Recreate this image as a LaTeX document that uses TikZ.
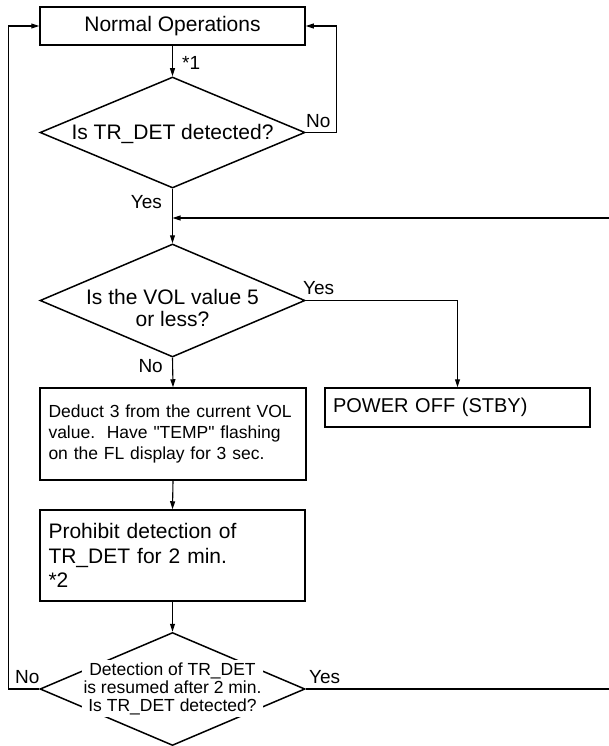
\documentclass[tikz,border=0pt]{standalone}
\usepackage{fontspec}
\setmainfont{Liberation Sans}
\newfontfamily\qfnt{Liberation Sans}
\usetikzlibrary{arrows.meta,shapes.geometric}
\begin{document}
\begin{tikzpicture}[x=1pt,y=-1pt,
  box/.style={draw,line width=1.5pt,rectangle,inner sep=0pt},
  dia/.style={draw,line width=1.5pt,diamond,inner sep=0pt,minimum width=265pt},
  conn/.style={line width=1.1pt},
  arr/.style={conn,-{Triangle[length=8pt,width=5pt]}},
  lbl/.style={font=\fontsize{19}{23}\selectfont,inner sep=0pt},
  big/.style={font=\fontsize{21}{25}\selectfont},
]
\useasboundingbox (0,0) rectangle (608,746);

% boxes
\node[box,big,minimum width=265pt,minimum height=38pt] (no) at (172.5,26) {Normal Operations};
\node[box,minimum width=266pt,minimum height=92pt,text width=249pt,align=left,
      font=\fontsize{17.5}{21}\selectfont] (ded) at (173,434)
      {Deduct 3 from the current VOL\\value.\ \ Have {\qfnt "}TEMP{\qfnt "} flashing\\on the FL display for 3 sec.};
\node[box,minimum width=265pt,minimum height=91pt,text width=248pt,align=left,
      font=\fontsize{21}{24.5}\selectfont] (pro) at (172.5,555.5)
      {Prohibit detection of\\TR\_DET for 2 min.\\{}*2};
\node[box,minimum width=265pt,minimum height=39pt,text width=249pt,align=left,
      font=\fontsize{20}{24}\selectfont] (pow) at (457.5,407.5) {POWER OFF (STBY)};

% diamonds
\node[dia,minimum height=111pt] (d1) at (172.5,132.5) {};
\node[big,inner sep=0pt,anchor=base] (d1t) at (172.5,140) {Is TR\_DET detected?};
\node[dia,minimum height=113pt] (d2) at (172.5,300.5) {};
\node[inner sep=0pt,align=center,font=\fontsize{21}{21.7}\selectfont] (d2t) at (172.5,308)
      {Is the VOL value 5\\or less?};
\node[dia,minimum height=113pt] (d3) at (172.5,689) {};
\node[fill=white,inner sep=2pt,align=center,font=\fontsize{17.5}{18}\selectfont] (d3t) at (172.5,688.5)
      {Detection of TR\_DET\\is resumed after 2 min.\\Is TR\_DET detected?};

% labels
\node[lbl,anchor=base west] (s1) at (182,70) {*1};
\node[lbl,anchor=base west] (n1) at (306,128) {No};
\node[lbl,anchor=base east] (y1) at (162,208) {Yes};
\node[lbl,anchor=base west] (y2) at (303,294) {Yes};
\node[lbl,anchor=base east] (n2) at (163,372) {No};
\node[lbl,anchor=base west] (n3) at (15,683) {No};
\node[lbl,anchor=base west] (y3) at (309,683) {Yes};

% connectors
\coordinate (m) at (172.5,218);
\coordinate (rr) at (610,689);
\draw[arr] (no.south) -- (d1.north);
\draw[arr] (d1.east) -- ++(31,0) |- (no.east);
\draw[arr] (d1.south) -- (d2.north);
\draw[arr] (d2.east) -| (pow.north);
\draw[arr] (d2.south) -- (ded.north);
\draw[arr] (ded.south) -- (pro.north);
\draw[arr] (pro.south) -- (d3.north);
\draw[arr] (d3.east) -- (rr) |- (m);
\draw[arr] (d3.west) -- ++(-31,0) |- (no.west);
\end{tikzpicture}
\end{document}
